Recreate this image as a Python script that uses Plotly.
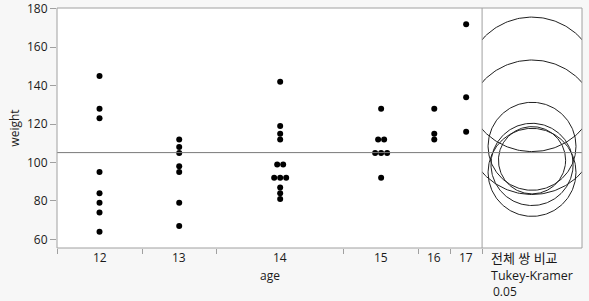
import numpy as np
import plotly.graph_objects as go

# ---- data ----
ages = ["12", "13", "14", "15", "16", "17"]
w12 = [64, 74, 79, 84, 95, 123, 128, 145]
w13 = [67, 79, 95, 98, 105, 108, 112]
w14 = [81, 84, 87, 92, 92, 92, 99, 99, 112, 115, 119, 142]
w15 = [92, 105, 105, 105, 112, 112, 128]
w16 = [112, 115, 128]
w17 = [116, 134, 172]
groups = [w12, w13, w14, w15, w16, w17]
# Tukey-Kramer comparison-circle radii (weight units)
circle_radius = [21.4, 22.9, 17.5, 22.9, 35.0, 35.0]
y_ticks = [60, 80, 100, 120, 140, 160, 180]

# ---- layout constants ----
W, H = 589, 301
ML, MR, MT, MB = 56.7, 6.7, 8, 53
plot_w = W - ML - MR
plot_h = H - MT - MB
y_range = [55.5, 180.4]
split = 0.8097
px_per_y = plot_h / (y_range[1] - y_range[0])
panel2_px = plot_w * (1 - split)
half2 = panel2_px / 2 / px_per_y

font_family = "Segoe UI, Open Sans, Noto Sans CJK KR, sans-serif"
txt_color = "#1a1a1a"
frame_color = "#a0a0a0"

counts = [len(g) for g in groups]
bounds = np.concatenate([[0], np.cumsum(counts)])
centers = (bounds[:-1] + bounds[1:]) / 2
total = bounds[-1]
px_per_x = plot_w * split / total
dot_gap = 6 / px_per_x

fig = go.Figure()

# points, with side-by-side offsets for tied values
xs, ys = [], []
for c, g in zip(centers, groups):
    vals = sorted(g)
    uniq = sorted(set(vals))
    for u in uniq:
        k = vals.count(u)
        for i in range(k):
            xs.append(c + (i - (k - 1) / 2) * dot_gap)
            ys.append(u)
fig.add_trace(go.Scatter(x=xs, y=ys, mode="markers", xaxis="x", yaxis="y",
                         marker=dict(size=6, color="black"), showlegend=False,
                         hoverinfo="skip"))

# comparison circles
t = np.linspace(0, 2 * np.pi, 240)
for g, r in zip(groups, circle_radius):
    m = np.mean(g)
    fig.add_trace(go.Scatter(x=r * np.cos(t), y=m + r * np.sin(t), mode="lines",
                             xaxis="x2", yaxis="y",
                             line=dict(color="#202020", width=1),
                             showlegend=False, hoverinfo="skip"))

grand_mean = float(np.mean(np.concatenate(groups)))

shapes = [
    dict(type="line", xref="paper", yref="y", x0=0, x1=1, y0=grand_mean, y1=grand_mean,
         line=dict(color="#7a7a7a", width=1), layer="above"),
    dict(type="rect", xref="paper", yref="paper", x0=0, x1=1, y0=0, y1=1,
         line=dict(color=frame_color, width=1), layer="above"),
    dict(type="line", xref="paper", yref="paper", x0=split, x1=split, y0=0, y1=1,
         line=dict(color=frame_color, width=1), layer="above"),
]

annotations = []
for c, a in zip(centers, ages):
    annotations.append(dict(x=c, xref="x", y=0, yref="paper", text=a, showarrow=False,
                            yshift=-9.5, yanchor="middle", xanchor="center",
                            font=dict(size=12, color=txt_color, family=font_family)))
annotations.append(dict(x=total / 2, xref="x", y=0, yref="paper", text="age", showarrow=False,
                        yshift=-27.5, yanchor="middle", xanchor="center",
                        font=dict(size=12, color=txt_color, family=font_family)))
annotations.append(dict(x=(13.3 - ML) / plot_w, xref="paper", y=0.5, yref="paper", text="weight",
                        showarrow=False, textangle=-90, xanchor="center", yanchor="middle",
                        font=dict(size=12, color=txt_color, family=font_family)))
for txt, ys_, xs_, fs in [("전체 쌍 비교", -9.5, 6.5, 13), ("Tukey-Kramer", -27, 6.5, 12.5),
                          ("0.05", -43, 8.5, 12)]:
    annotations.append(dict(x=split, xref="paper", y=0, yref="paper", text=txt, showarrow=False,
                            xshift=xs_, yshift=ys_, xanchor="left", yanchor="middle",
                            font=dict(size=fs, color=txt_color, family=font_family)))

fig.update_layout(
    width=W, height=H,
    margin=dict(l=ML, r=MR, t=MT, b=MB, pad=0, autoexpand=False),
    paper_bgcolor="#f7f7f7", plot_bgcolor="white",
    font=dict(family=font_family, size=12, color=txt_color),
    xaxis=dict(domain=[0, split], range=[0, total], tickmode="array",
               tickvals=list(bounds), showticklabels=False, ticks="outside",
               ticklen=5, tickcolor=frame_color, showgrid=False, zeroline=False,
               showline=False, fixedrange=True, automargin=False),
    xaxis2=dict(domain=[split, 1], range=[-half2, half2], showticklabels=False,
                ticks="", showgrid=False, zeroline=False, showline=False, anchor="y",
                automargin=False),
    yaxis=dict(range=y_range, tickmode="array", tickvals=y_ticks, ticks="outside",
               ticklen=6, tickcolor=frame_color, showgrid=False, zeroline=False,
               showline=False, tickfont=dict(size=12, color=txt_color),
               ticklabeloverflow="allow", automargin=False),
    shapes=shapes, annotations=annotations,
)

fig.write_html("out.html")
